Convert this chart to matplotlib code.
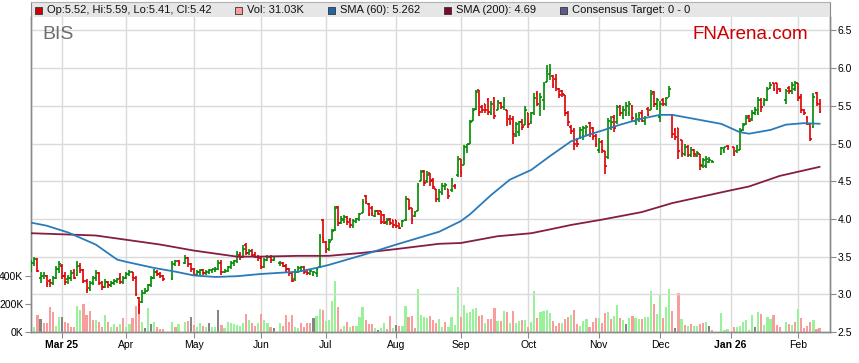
import numpy as np
import pandas as pd
import matplotlib
matplotlib.use("Agg")
import matplotlib.pyplot as plt
from matplotlib.patches import Rectangle

plt.rcParams['font.family'] = ['Liberation Sans', 'DejaVu Sans']

# -------------------------------
# Daily OHLC (A$) and volume (K), 17 Feb 2025 - 11 Feb 2026
# -------------------------------
opens = [
    # Feb
    3.35, 3.42, 3.47, 3.22, 3.24, 3.24, 3.18, 3.15, 3.22, 3.33,
    # Mar
    3.38, 3.24, 3.20, 3.22, 3.30, 3.25, 3.38, 3.32, 3.18, 3.08, 3.15, 3.22, 3.28, 3.15, 3.10, 3.16, 3.12, 3.15, 3.18, 3.22, 3.16,
    # Apr
    3.22, 3.27, 3.29, 3.22, 2.95, 2.90, 3.02, 3.05, 3.12, 3.22, 3.30, 3.27, 3.24, 3.20, 3.40, 3.44, 3.42, 3.48, 3.40,
    # May
    3.33, 3.26, 3.30, 3.32, 3.28, 3.30, 3.32, 3.32, 3.34, 3.42, 3.30, 3.31, 3.36, 3.42, 3.44, 3.52, 3.50, 3.66, 3.55, 3.58, 3.52, 3.50,
    # Jun
    3.48, 3.36, 3.46, 3.50, 3.45, 3.42, 3.42, 3.38, 3.33, 3.28, 3.20, 3.30, 3.35, 3.36, 3.32, 3.27, 3.26, 3.28, 3.36, 3.98,
    # Jul
    3.70, 3.60, 3.72, 3.85, 4.16, 3.95, 3.98, 4.03, 3.98, 3.90, 3.96, 4.00, 4.08, 4.30, 4.20, 4.14, 4.04, 4.10, 4.10, 4.05, 3.96, 4.00, 3.98,
    # Aug
    3.98, 3.94, 3.90, 3.98, 4.26, 4.15, 4.04, 4.10, 4.50, 4.64, 4.50, 4.61, 4.52, 4.39, 4.26, 4.34, 4.42, 4.40, 4.38, 4.44, 4.58,
    # Sep
    4.80, 4.72, 4.95, 5.00, 5.30, 5.46, 5.71, 5.48, 5.52, 5.58, 5.40, 5.60, 5.45, 5.54, 5.48, 5.45, 5.33, 5.32, 5.10, 5.15, 5.28, 5.25,
    # Oct
    5.40, 5.28, 5.40, 5.65, 5.50, 5.58, 5.82, 5.92, 5.90, 5.86, 5.72, 5.70, 5.64, 5.40, 5.22, 5.18, 5.05, 5.08, 5.10, 5.15, 5.27, 5.20, 5.10,
    # Nov
    4.92, 5.02, 4.90, 4.82, 5.20, 5.35, 5.28, 5.50, 5.40, 5.38, 5.40, 5.50, 5.30, 5.32, 5.40, 5.30, 5.46, 5.45, 5.68, 5.52,
    # Dec
    5.35, 5.58, 5.52, 5.62, 5.38, 5.18, 5.20, 5.05, 4.86, 4.96, 4.85, 4.92, 4.84, 4.86, 4.70, 4.70, 4.76, 4.76, 4.86, 4.92, 4.97,
    # Jan
    4.96, 4.90, 4.92, 5.18, 5.26, 5.36, 5.32, 5.40, 5.40, 5.58, 5.52, 5.58, 5.74, 5.80, 5.80, 5.72, 5.58, 5.74, 5.70, 5.72,
    # Feb
    5.80, 5.62, 5.44, 5.34, 5.26, 5.22, 5.67, 5.52,
]
highs = [
    3.45, 3.50, 3.48, 3.30, 3.30, 3.25, 3.20, 3.24, 3.37, 3.44,
    3.40, 3.30, 3.26, 3.32, 3.34, 3.44, 3.42, 3.34, 3.20, 3.18, 3.24, 3.32, 3.30, 3.18, 3.20, 3.18, 3.17, 3.20, 3.22, 3.28, 3.24,
    3.30, 3.32, 3.30, 3.24, 2.96, 3.06, 3.08, 3.14, 3.24, 3.34, 3.32, 3.30, 3.26, 3.44, 3.46, 3.46, 3.52, 3.50, 3.42,
    3.35, 3.32, 3.34, 3.34, 3.32, 3.33, 3.34, 3.36, 3.46, 3.45, 3.34, 3.38, 3.44, 3.46, 3.58, 3.56, 3.65, 3.68, 3.60, 3.60, 3.56, 3.52,
    3.50, 3.48, 3.52, 3.52, 3.50, 3.44, 3.43, 3.40, 3.35, 3.30, 3.34, 3.37, 3.38, 3.37, 3.33, 3.33, 3.31, 3.36, 3.80, 4.00,
    3.71, 3.73, 3.86, 4.17, 4.17, 4.04, 4.05, 4.04, 4.01, 4.00, 4.01, 4.08, 4.26, 4.32, 4.21, 4.17, 4.12, 4.12, 4.10, 4.06, 4.01, 4.01, 3.99,
    3.99, 3.95, 3.99, 4.30, 4.26, 4.15, 4.10, 4.48, 4.65, 4.65, 4.63, 4.61, 4.54, 4.39, 4.39, 4.47, 4.48, 4.40, 4.54, 4.46, 4.83,
    4.80, 4.98, 5.00, 5.31, 5.47, 5.71, 5.71, 5.51, 5.53, 5.60, 5.56, 5.62, 5.58, 5.55, 5.62, 5.45, 5.38, 5.36, 5.29, 5.30, 5.33, 5.50,
    5.40, 5.42, 5.67, 5.69, 5.67, 5.82, 6.04, 6.06, 5.91, 5.92, 5.73, 5.71, 5.64, 5.43, 5.25, 5.20, 5.07, 5.22, 5.23, 5.25, 5.29, 5.22, 5.12,
    5.07, 5.05, 4.90, 5.34, 5.36, 5.38, 5.51, 5.51, 5.50, 5.55, 5.56, 5.51, 5.40, 5.42, 5.45, 5.36, 5.49, 5.71, 5.69, 5.60,
    5.56, 5.60, 5.62, 5.76, 5.38, 5.20, 5.20, 5.05, 4.99, 4.98, 4.96, 4.93, 4.90, 4.86, 4.81, 4.83, 4.82, 4.78, 4.96, 4.96, 4.98,
    4.96, 4.98, 5.20, 5.27, 5.38, 5.38, 5.44, 5.48, 5.62, 5.60, 5.60, 5.75, 5.82, 5.80, 5.80, 5.74, 5.72, 5.76, 5.82, 5.83,
    5.80, 5.66, 5.46, 5.36, 5.26, 5.67, 5.68, 5.59,
]
lows = [
    3.30, 3.38, 3.29, 3.15, 3.20, 3.10, 3.10, 3.12, 3.20, 3.28,
    3.20, 3.12, 3.14, 3.18, 3.20, 3.24, 3.28, 3.15, 3.02, 3.05, 3.12, 3.18, 3.12, 3.06, 3.08, 3.08, 3.10, 3.12, 3.15, 3.14, 3.14,
    3.20, 3.24, 3.18, 2.98, 2.74, 2.88, 3.00, 3.04, 3.10, 3.20, 3.24, 3.22, 3.18, 3.19, 3.38, 3.38, 3.40, 3.36, 3.30,
    3.24, 3.24, 3.26, 3.26, 3.26, 3.27, 3.28, 3.30, 3.32, 3.26, 3.28, 3.30, 3.34, 3.38, 3.42, 3.46, 3.48, 3.52, 3.52, 3.50, 3.48, 3.44,
    3.33, 3.35, 3.44, 3.42, 3.44, 3.38, 3.36, 3.30, 3.24, 3.16, 3.18, 3.28, 3.30, 3.27, 3.26, 3.25, 3.24, 3.23, 3.35, 3.68,
    3.55, 3.58, 3.72, 3.84, 3.90, 3.93, 3.95, 3.92, 3.88, 3.88, 3.95, 3.97, 4.08, 4.20, 4.04, 4.04, 4.03, 4.05, 3.93, 3.93, 3.92, 3.92, 3.88,
    3.88, 3.86, 3.89, 3.97, 4.12, 3.93, 4.03, 4.10, 4.50, 4.43, 4.48, 4.43, 4.40, 4.23, 4.23, 4.32, 4.38, 4.27, 4.36, 4.39, 4.56,
    4.56, 4.72, 4.88, 5.00, 5.30, 5.45, 5.36, 5.40, 5.40, 5.38, 5.38, 5.32, 5.44, 5.46, 5.45, 5.23, 5.25, 5.00, 5.09, 5.10, 5.18, 5.24,
    5.20, 5.26, 5.38, 5.50, 5.36, 5.45, 5.82, 5.84, 5.73, 5.70, 5.60, 5.62, 5.36, 5.23, 5.12, 4.92, 4.96, 5.06, 5.05, 5.10, 5.09, 5.05, 4.96,
    4.88, 4.88, 4.60, 4.80, 5.18, 5.15, 5.26, 5.36, 5.33, 5.36, 5.36, 5.30, 5.25, 5.29, 5.28, 5.25, 5.36, 5.44, 5.49, 5.45,
    5.29, 5.50, 5.50, 5.62, 5.07, 5.05, 4.80, 4.82, 4.84, 4.82, 4.82, 4.82, 4.82, 4.65, 4.68, 4.68, 4.74, 4.75, 4.85, 4.88, 4.92,
    4.83, 4.88, 4.92, 5.16, 5.24, 5.28, 5.30, 5.38, 5.38, 5.42, 5.50, 5.56, 5.72, 5.69, 5.66, 5.68, 5.52, 5.66, 5.66, 5.70,
    5.56, 5.40, 5.38, 5.24, 5.03, 5.20, 5.50, 5.41,
]
closes = [
    3.42, 3.47, 3.31, 3.24, 3.26, 3.14, 3.15, 3.22, 3.33, 3.40,
    3.24, 3.16, 3.22, 3.28, 3.22, 3.38, 3.32, 3.18, 3.06, 3.15, 3.22, 3.28, 3.15, 3.10, 3.16, 3.12, 3.15, 3.18, 3.20, 3.16, 3.22,
    3.27, 3.29, 3.22, 3.00, 2.86, 3.02, 3.05, 3.12, 3.22, 3.30, 3.27, 3.24, 3.20, 3.40, 3.44, 3.42, 3.48, 3.40, 3.33,
    3.26, 3.30, 3.32, 3.28, 3.30, 3.32, 3.33, 3.34, 3.42, 3.30, 3.31, 3.36, 3.42, 3.44, 3.55, 3.50, 3.60, 3.55, 3.57, 3.52, 3.50, 3.48,
    3.36, 3.46, 3.50, 3.45, 3.48, 3.42, 3.38, 3.33, 3.28, 3.18, 3.30, 3.35, 3.36, 3.30, 3.28, 3.31, 3.29, 3.34, 3.76, 3.72,
    3.58, 3.70, 3.84, 4.14, 3.94, 4.00, 4.02, 3.96, 3.92, 3.97, 4.00, 4.06, 4.22, 4.22, 4.07, 4.06, 4.10, 4.07, 3.96, 3.95, 3.99, 3.95, 3.92,
    3.90, 3.88, 3.97, 4.26, 4.15, 3.98, 4.08, 4.44, 4.62, 4.48, 4.58, 4.50, 4.42, 4.26, 4.36, 4.44, 4.45, 4.30, 4.50, 4.43, 4.78,
    4.62, 4.95, 4.99, 5.28, 5.45, 5.68, 5.42, 5.44, 5.45, 5.42, 5.53, 5.36, 5.55, 5.48, 5.58, 5.28, 5.27, 5.12, 5.26, 5.28, 5.22, 5.45,
    5.26, 5.40, 5.60, 5.52, 5.62, 5.78, 5.96, 5.98, 5.78, 5.74, 5.64, 5.65, 5.40, 5.28, 5.16, 5.00, 5.00, 5.18, 5.20, 5.22, 5.14, 5.08, 5.00,
    5.02, 4.92, 4.70, 5.30, 5.28, 5.20, 5.48, 5.40, 5.45, 5.50, 5.52, 5.34, 5.36, 5.38, 5.30, 5.34, 5.38, 5.66, 5.52, 5.58,
    5.52, 5.52, 5.60, 5.72, 5.12, 5.08, 4.90, 4.88, 4.96, 4.85, 4.92, 4.86, 4.88, 4.72, 4.78, 4.80, 4.78, 4.76, 4.94, 4.95, 4.95,
    4.88, 4.96, 5.16, 5.24, 5.34, 5.30, 5.40, 5.44, 5.58, 5.48, 5.58, 5.72, 5.78, 5.72, 5.70, 5.70, 5.70, 5.70, 5.78, 5.80,
    5.60, 5.44, 5.40, 5.26, 5.06, 5.62, 5.54, 5.42,
]
volumes = [
    169, 33, 121, 93, 62, 62, 176, 145, 43, 110,
    110, 74, 67, 38, 38, 186, 157, 200, 121, 152, 86, 86, 74, 33, 121, 74, 33, 57, 33, 57, 98,
    33, 57, 100, 188, 208, 74, 26, 169, 60, 69, 33, 24, 24, 74, 33, 57, 69, 81, 105,
    50, 38, 62, 43, 38, 62, 38, 33, 157, 50, 26, 74, 62, 57, 50, 43, 67, 129, 86, 67, 43, 62,
    129, 86, 67, 38, 26, 62, 43, 121, 74, 121, 33, 26, 62, 38, 62, 62, 98, 114, 162, 157,
    81, 86, 221, 364, 176, 24, 43, 74, 33, 43, 43, 107, 176, 86, 57, 57, 26, 14, 26, 67, 19, 114, 26,
    48, 43, 43, 186, 105, 114, 26, 307, 121, 110, 98, 114, 86, 67, 90, 33, 74, 38, 107, 50, 324,
    107, 193, 138, 145, 164, 171, 117, 121, 67, 93, 93, 169, 79, 79, 150, 140, 67, 150, 67, 81, 86, 86,
    33, 69, 293, 98, 145, 152, 157, 138, 79, 43, 62, 67, 93, 110, 121, 157, 57, 43, 79, 93, 33, 74, 98,
    98, 62, 133, 145, 93, 114, 193, 98, 86, 57, 98, 114, 98, 93, 93, 107, 107, 293, 200, 129,
    264, 98, 176, 305, 150, 26, 276, 90, 50, 43, 57, 43, 43, 55, 67, 74, 43, 14, 133, 14, 19,
    33, 33, 43, 74, 86, 14, 121, 33, 145, 126, 50, 105, 93, 121, 50, 33, 71, 57, 50, 74,
    164, 100, 29, 43, 71, 86, 24, 31.03,
]
# volume bar shade: g = up, r = down, n = unchanged
vol_dir = (
    "rgrnrrrrgg"
    "nrrrrggrrrrgrrgrggrgr"
    "ggrrrgngngrrrgrggrn"
    "rggrgnggnrgggggggrgrrg"
    "rggrngrrrrggrrrrnggr"
    "ggggrrgrgrgggrrrgnggrrg"
    "nrggrrrggggrrrggrgggg"
    "rgggggrrgrrrgrgrgrggrg"
    "rggrggggrrrgrrgrrgggrrr"
    "grrgrggrgngrggrgggrg"
    "grggrnrgrgrggrrgnrggg"
    "rggggggngrgggrrrgrgr"
    "grrrrgrr"
)

# ASX closures inside the window (gaps on the weekday axis)
holidays = ["2025-04-18", "2025-04-21", "2025-04-25", "2025-06-09",
            "2025-12-25", "2025-12-26", "2026-01-01", "2026-01-26"]

sma60_dates = ["2025-02-17", "2025-02-24", "2025-03-05", "2025-03-18", "2025-03-27", "2025-04-01",
               "2025-04-14", "2025-04-23", "2025-05-01", "2025-05-12", "2025-05-21", "2025-06-02",
               "2025-06-18", "2025-06-26", "2025-07-02", "2025-07-17", "2025-08-01", "2025-08-21",
               "2025-09-01", "2025-09-04", "2025-09-15", "2025-09-23", "2025-10-02", "2025-10-10",
               "2025-10-21", "2025-10-29", "2025-11-04", "2025-11-12", "2025-11-21", "2025-12-01",
               "2025-12-05", "2025-12-17", "2025-12-29", "2026-01-06", "2026-01-09", "2026-01-20",
               "2026-01-27", "2026-02-04", "2026-02-11"]
sma60 = [3.95, 3.91, 3.82, 3.66, 3.46, 3.43, 3.35, 3.30, 3.25, 3.23, 3.24, 3.27, 3.30,
         3.35, 3.39, 3.52, 3.66, 3.83, 3.97, 4.06, 4.32, 4.52, 4.65, 4.83, 5.03, 5.12,
         5.17, 5.25, 5.33, 5.38, 5.38, 5.32, 5.26, 5.15, 5.13, 5.18, 5.25, 5.27, 5.262]

sma200_dates = ["2025-02-17", "2025-03-18", "2025-04-16", "2025-05-01", "2025-05-21", "2025-06-02",
                "2025-06-18", "2025-07-02", "2025-07-17", "2025-08-01", "2025-08-21", "2025-09-01",
                "2025-09-17", "2025-10-02", "2025-10-10", "2025-10-21", "2025-11-04", "2025-11-21",
                "2025-12-05", "2025-12-31", "2026-01-09", "2026-01-23", "2026-02-11"]
sma200 = [3.81, 3.78, 3.66, 3.58, 3.50, 3.50, 3.51, 3.51, 3.55, 3.60, 3.67, 3.68,
          3.77, 3.81, 3.86, 3.92, 3.99, 4.09, 4.21, 4.37, 4.43, 4.57, 4.69]

month_starts = ["2025-03-03", "2025-04-01", "2025-05-01", "2025-06-02", "2025-07-01", "2025-08-01",
                "2025-09-01", "2025-10-01", "2025-11-03", "2025-12-01", "2026-01-01", "2026-02-02"]
month_labels = ["Mar 25", "Apr", "May", "Jun", "Jul", "Aug", "Sep", "Oct", "Nov", "Dec", "Jan 26", "Feb"]

legend_items = [("Op:5.52, Hi:5.59, Lo:5.41, Cl:5.42", "#cc0000"),
                ("Vol: 31.03K", "#ff9c9c"),
                ("SMA (60): 5.262", "#1f66a6"),
                ("SMA (200): 4.69", "#7a0a2a"),
                ("Consensus Target: 0 - 0", "#5a5a8c")]

# -------------------------------
# Weekday axis
# -------------------------------
all_days = pd.bdate_range("2025-02-17", "2026-02-11")
trade_days = all_days[~all_days.isin(pd.to_datetime(holidays))]
x = all_days.get_indexer(trade_days)

opens = np.array(opens)
highs = np.array(highs)
lows = np.array(lows)
closes = np.array(closes)

W, H = 859, 363
L, R, T, B = 31, 830, 17, 332

fig = plt.figure(figsize=(W / 100, H / 100), dpi=100)
ax_vol = fig.add_axes([L / W, 1 - B / H, (R - L) / W, (B - T) / H])
ax = ax_vol.twinx()

grid_col = "#dadada"
spine_col = "#8a8a8a"

# volume
vcol = {"g": "#99f299", "r": "#f89c9c", "n": "#858585"}
ax_vol.bar(x, volumes, width=0.7, color=[vcol[c] for c in vol_dir], linewidth=0, zorder=2)
ax_vol.set_ylim(0, 2250)
ax_vol.set_yticks([0, 200, 400])
ax_vol.set_yticklabels(["0K", "200K", "400K"])
ax_vol.set_xlim(-0.1, 260.4)
ax_vol.set_xticks(all_days.get_indexer(pd.to_datetime(month_starts)))
ax_vol.set_xticklabels(month_labels)
for lbl in ax_vol.get_xticklabels():
    if " " in lbl.get_text():
        lbl.set_fontweight("bold")
ax_vol.xaxis.grid(True, color=grid_col, lw=1.0)
ax_vol.set_axisbelow(True)
ax_vol.tick_params(axis="x", length=4, color=spine_col, labelsize=7.5, pad=2)
ax_vol.tick_params(axis="y", length=4, color=spine_col, labelsize=7.5, pad=1.5)

# price OHLC bars
cols = np.where(closes >= opens, "#008a00", "#dd0000")
ax.vlines(x, lows, highs, colors=cols, lw=1.2, zorder=3)
ax.hlines(opens, x - 0.55, x, colors=cols, lw=1.2, zorder=3)
ax.hlines(closes, x, x + 0.55, colors=cols, lw=1.2, zorder=3)

ax.plot(all_days.get_indexer(pd.to_datetime(sma200_dates)), sma200, color="#861d43", lw=1.3, zorder=4)
ax.plot(all_days.get_indexer(pd.to_datetime(sma60_dates)), sma60, color="#2b7bba", lw=1.3, zorder=4)

ax.set_ylim(2.5, 2.5 + (B - T) / 75.4)
ax.set_yticks(np.arange(2.5, 6.51, 0.5))
ax.set_yticklabels([f"{v:.1f}" for v in np.arange(2.5, 6.51, 0.5)])
ax.yaxis.grid(True, color=grid_col, lw=1.0)
ax.set_axisbelow(True)
ax.tick_params(axis="y", length=4, color=spine_col, labelsize=7.5, pad=1.5)

for a in (ax, ax_vol):
    for s in a.spines.values():
        s.set_color(spine_col)
        s.set_linewidth(1.0)
    a.spines["top"].set_visible(False)

# legend band across the top
band = fig.add_axes([L / W, 1 - T / H, (R - L) / W, (T - 2) / H])
band.set_facecolor("#e6e6e6")
band.set_xlim(L, R)
band.set_ylim(T, 2)
band.set_xticks([])
band.set_yticks([])
for s in band.spines.values():
    s.set_color(spine_col)
band.spines["bottom"].set_visible(False)
band.spines["top"].set_color("#b0b0b0")

for (txt, c), px in zip(legend_items, [35, 235, 328, 444, 560]):
    band.add_patch(Rectangle((px, 6.5), 7, 7, facecolor=c, edgecolor="#333333", lw=0.6))
    band.text(px + 12, 10.2, txt, fontsize=8, va="center", ha="left", color="#111111")

fig.text(42 / W, 1 - 39 / H, "BIS", fontsize=14, color="#6d6d6d", va="baseline")
fig.text(693 / W, 1 - 39 / H, "FNArena.com", fontsize=13.5, color="#cc0000", va="baseline")

fig.savefig("out.png", dpi=100)
